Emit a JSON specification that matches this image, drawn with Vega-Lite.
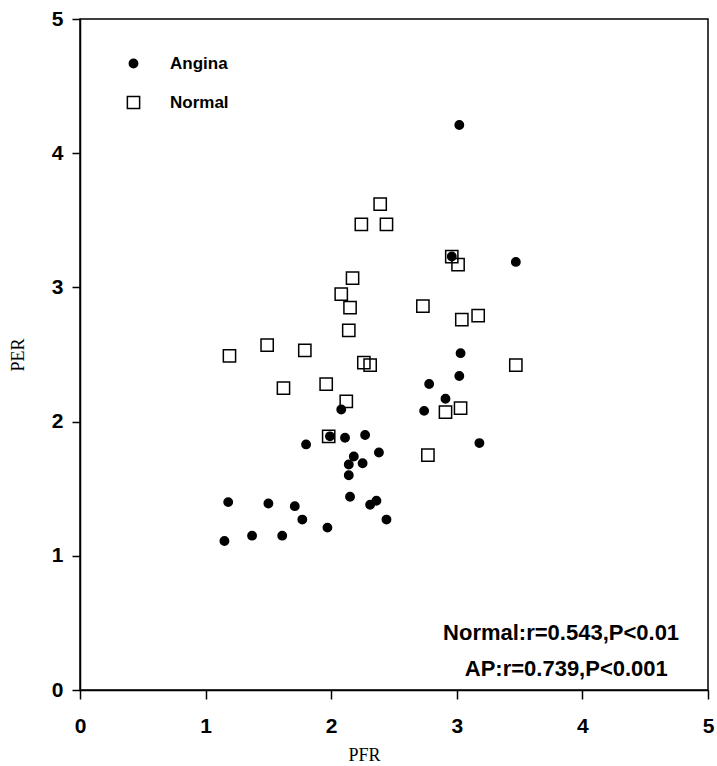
{
  "$schema": "https://vega.github.io/schema/vega-lite/v6.json",
  "autosize": {"type": "none"},
  "width": 628,
  "height": 671,
  "padding": {"left": 80, "top": 19, "right": 9, "bottom": 76},
  "background": "white",
  "config": {
    "view": {"stroke": "black", "strokeWidth": 1.5},
    "axis": {
      "grid": false,
      "labelFlush": false,
      "domainColor": "black",
      "domainWidth": 1.5,
      "tickColor": "black",
      "tickWidth": 1.5,
      "labelFont": "Liberation Sans",
      "labelFontWeight": "bold",
      "labelFontSize": 21,
      "labelColor": "black",
      "titleFont": "Liberation Serif",
      "titleFontWeight": "normal",
      "titleFontSize": 18,
      "titleColor": "black"
    }
  },
  "datasets": {
    "points": [
      {"PFR": 3.02, "PER": 4.21, "group": "Angina"},
      {"PFR": 2.96, "PER": 3.23, "group": "Angina"},
      {"PFR": 3.47, "PER": 3.19, "group": "Angina"},
      {"PFR": 3.03, "PER": 2.51, "group": "Angina"},
      {"PFR": 3.02, "PER": 2.34, "group": "Angina"},
      {"PFR": 2.78, "PER": 2.28, "group": "Angina"},
      {"PFR": 2.91, "PER": 2.17, "group": "Angina"},
      {"PFR": 2.74, "PER": 2.08, "group": "Angina"},
      {"PFR": 2.08, "PER": 2.09, "group": "Angina"},
      {"PFR": 1.80, "PER": 1.83, "group": "Angina"},
      {"PFR": 1.99, "PER": 1.89, "group": "Angina"},
      {"PFR": 2.11, "PER": 1.88, "group": "Angina"},
      {"PFR": 2.27, "PER": 1.90, "group": "Angina"},
      {"PFR": 2.38, "PER": 1.77, "group": "Angina"},
      {"PFR": 2.18, "PER": 1.74, "group": "Angina"},
      {"PFR": 2.14, "PER": 1.68, "group": "Angina"},
      {"PFR": 2.25, "PER": 1.69, "group": "Angina"},
      {"PFR": 2.14, "PER": 1.60, "group": "Angina"},
      {"PFR": 3.18, "PER": 1.84, "group": "Angina"},
      {"PFR": 2.15, "PER": 1.44, "group": "Angina"},
      {"PFR": 2.36, "PER": 1.41, "group": "Angina"},
      {"PFR": 2.31, "PER": 1.38, "group": "Angina"},
      {"PFR": 2.44, "PER": 1.27, "group": "Angina"},
      {"PFR": 1.18, "PER": 1.40, "group": "Angina"},
      {"PFR": 1.50, "PER": 1.39, "group": "Angina"},
      {"PFR": 1.71, "PER": 1.37, "group": "Angina"},
      {"PFR": 1.77, "PER": 1.27, "group": "Angina"},
      {"PFR": 1.97, "PER": 1.21, "group": "Angina"},
      {"PFR": 1.15, "PER": 1.11, "group": "Angina"},
      {"PFR": 1.37, "PER": 1.15, "group": "Angina"},
      {"PFR": 1.61, "PER": 1.15, "group": "Angina"},
      {"PFR": 2.39, "PER": 3.62, "group": "Normal"},
      {"PFR": 2.24, "PER": 3.47, "group": "Normal"},
      {"PFR": 2.44, "PER": 3.47, "group": "Normal"},
      {"PFR": 2.96, "PER": 3.23, "group": "Normal"},
      {"PFR": 3.01, "PER": 3.17, "group": "Normal"},
      {"PFR": 2.17, "PER": 3.07, "group": "Normal"},
      {"PFR": 2.08, "PER": 2.95, "group": "Normal"},
      {"PFR": 2.15, "PER": 2.85, "group": "Normal"},
      {"PFR": 2.73, "PER": 2.86, "group": "Normal"},
      {"PFR": 3.04, "PER": 2.76, "group": "Normal"},
      {"PFR": 3.17, "PER": 2.79, "group": "Normal"},
      {"PFR": 2.14, "PER": 2.68, "group": "Normal"},
      {"PFR": 1.19, "PER": 2.49, "group": "Normal"},
      {"PFR": 1.49, "PER": 2.57, "group": "Normal"},
      {"PFR": 1.79, "PER": 2.53, "group": "Normal"},
      {"PFR": 2.26, "PER": 2.44, "group": "Normal"},
      {"PFR": 2.31, "PER": 2.42, "group": "Normal"},
      {"PFR": 3.47, "PER": 2.42, "group": "Normal"},
      {"PFR": 1.62, "PER": 2.25, "group": "Normal"},
      {"PFR": 1.96, "PER": 2.28, "group": "Normal"},
      {"PFR": 2.12, "PER": 2.15, "group": "Normal"},
      {"PFR": 1.98, "PER": 1.89, "group": "Normal"},
      {"PFR": 2.91, "PER": 2.07, "group": "Normal"},
      {"PFR": 3.03, "PER": 2.10, "group": "Normal"},
      {"PFR": 2.77, "PER": 1.75, "group": "Normal"}
    ],
    "notes": [
      {"PFR": 4.77, "PER": 0.373, "label": "Normal:r=0.543,P<0.01"},
      {"PFR": 4.68, "PER": 0.104, "label": "AP:r=0.739,P<0.001"}
    ]
  },
  "layer": [
    {
      "data": {"name": "points"},
      "mark": {"type": "point", "filled": true, "stroke": "black", "strokeWidth": 1.5, "opacity": 1},
      "encoding": {
        "x": {
          "field": "PFR", "type": "quantitative",
          "scale": {"domain": [0, 5], "nice": false, "zero": false},
          "axis": {"values": [0, 1, 2, 3, 4, 5], "format": "d", "tickSize": 9, "labelPadding": 16, "title": "PFR", "titlePadding": 10, "titleX": 284}
        },
        "y": {
          "field": "PER", "type": "quantitative",
          "scale": {"domain": [0, 5], "nice": false, "zero": false},
          "axis": {"values": [0, 1, 2, 3, 4, 5], "format": "d", "tickSize": 8, "labelPadding": 9, "title": "PER", "titlePadding": 24}
        },
        "shape": {
          "field": "group", "type": "nominal",
          "scale": {"domain": ["Angina", "Normal"], "range": ["circle", "square"]},
          "legend": {
            "title": null, "orient": "none", "legendX": 45, "legendY": 36,
            "labelFont": "Liberation Sans", "labelFontWeight": "bold", "labelFontSize": 17,
            "labelColor": "black", "labelOffset": 28, "rowPadding": 21, "symbolStrokeWidth": 1.5
          }
        },
        "fill": {
          "field": "group", "type": "nominal",
          "scale": {"domain": ["Angina", "Normal"], "range": ["black", "transparent"]},
          "legend": {
            "title": null, "orient": "none", "legendX": 45, "legendY": 36,
            "labelFont": "Liberation Sans", "labelFontWeight": "bold", "labelFontSize": 17,
            "labelColor": "black", "labelOffset": 28, "rowPadding": 21, "symbolStrokeWidth": 1.5
          }
        },
        "size": {
          "field": "group", "type": "nominal",
          "scale": {"domain": ["Angina", "Normal"], "range": [70, 150]},
          "legend": {
            "title": null, "orient": "none", "legendX": 45, "legendY": 36,
            "labelFont": "Liberation Sans", "labelFontWeight": "bold", "labelFontSize": 17,
            "labelColor": "black", "labelOffset": 28, "rowPadding": 21, "symbolStrokeWidth": 1.5
          }
        }
      }
    },
    {
      "data": {"name": "notes"},
      "mark": {"type": "text", "align": "right", "baseline": "alphabetic", "font": "Liberation Sans", "fontWeight": "bold", "fontSize": 22, "color": "black"},
      "encoding": {
        "x": {"field": "PFR", "type": "quantitative"},
        "y": {"field": "PER", "type": "quantitative"},
        "text": {"field": "label"}
      }
    }
  ]
}
